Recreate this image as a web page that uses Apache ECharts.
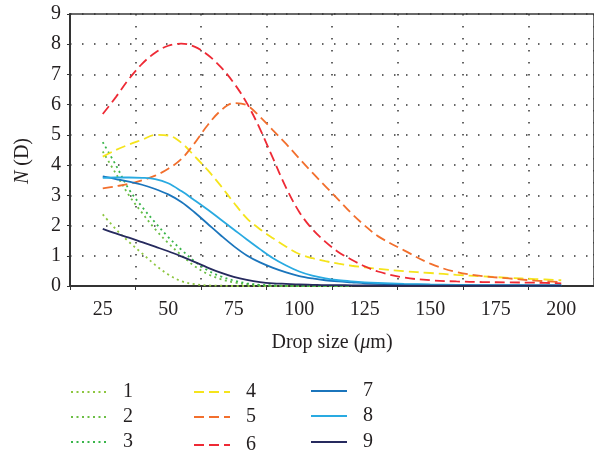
<!DOCTYPE html>
<html><head><meta charset="utf-8">
<script src="https://cdn.jsdelivr.net/npm/echarts@6/dist/echarts.min.js"></script>
<style>html,body{margin:0;padding:0;background:#fff}#c{width:594px;height:454px}</style>
</head><body><div id="c"></div><script>
// x tick labels (category labels)
const categories = ['25', '50', '75', '100', '125', '150', '175', '200'];
// drop sizes (µm) at which values were read
const dropSize = [25, 30, 35, 40, 45, 50, 55, 60, 65, 70, 75, 80, 85, 90, 95, 100, 105, 110, 115, 120, 125, 130, 140, 150, 160, 170, 180, 190, 200];
const s1 = [2.37, 1.88, 1.46, 1.08, 0.7, 0.38, 0.16, 0.06, 0.02, 0.01, 0.0, 0.0, 0.0, 0.0, 0.0, 0.0, 0.0, 0.0, 0.0, 0.0, null, null, null, null, null, null, null, null, null];
const s2 = [4.45, 3.72, 3.0, 2.42, 1.88, 1.42, 1.02, 0.66, 0.4, 0.23, 0.12, 0.06, 0.03, 0.01, 0.0, 0.0, 0.0, 0.0, 0.0, 0.0, null, null, null, null, null, null, null, null, null];
const s3 = [4.76, 4.0, 3.2, 2.62, 2.1, 1.62, 1.2, 0.82, 0.52, 0.32, 0.18, 0.09, 0.04, 0.02, 0.01, 0.0, 0.0, 0.0, 0.0, 0.0, null, null, null, null, null, null, null, null, null];
const s4 = [4.28, 4.5, 4.68, 4.84, 5.0, 4.98, 4.74, 4.3, 3.84, 3.32, 2.76, 2.24, 1.88, 1.58, 1.3, 1.06, 0.92, 0.82, 0.74, 0.67, 0.62, 0.57, 0.49, 0.43, 0.37, 0.32, 0.27, 0.23, 0.19];
const s5 = [3.23, 3.3, 3.38, 3.5, 3.65, 3.88, 4.2, 4.72, 5.32, 5.8, 6.05, 5.98, 5.6, 5.15, 4.7, 4.22, 3.75, 3.3, 2.85, 2.4, 2.0, 1.65, 1.18, 0.74, 0.46, 0.33, 0.25, 0.18, 0.13];
const s6 = [5.69, 6.25, 6.85, 7.35, 7.72, 7.95, 8.02, 7.92, 7.65, 7.25, 6.72, 6.05, 5.2, 4.22, 3.25, 2.45, 1.88, 1.46, 1.12, 0.87, 0.65, 0.48, 0.28, 0.19, 0.15, 0.13, 0.12, 0.11, 0.09];
const s7 = [3.63, 3.54, 3.45, 3.35, 3.21, 3.03, 2.78, 2.44, 2.06, 1.68, 1.32, 1.01, 0.78, 0.6, 0.45, 0.33, 0.25, 0.19, 0.15, 0.12, 0.09, 0.07, 0.05, 0.04, 0.03, 0.02, 0.02, 0.02, 0.02];
const s8 = [3.58, 3.59, 3.59, 3.58, 3.54, 3.4, 3.14, 2.84, 2.53, 2.2, 1.87, 1.54, 1.22, 0.92, 0.68, 0.48, 0.34, 0.25, 0.19, 0.15, 0.12, 0.1, 0.07, 0.05, 0.04, 0.03, 0.03, 0.02, 0.02];
const s9 = [1.89, 1.74, 1.6, 1.45, 1.3, 1.15, 0.98, 0.8, 0.61, 0.44, 0.3, 0.2, 0.13, 0.09, 0.07, 0.05, 0.04, 0.03, 0.03, 0.02, 0.02, 0.02, 0.01, 0.01, 0.01, 0.01, 0.01, 0.01, 0.01];
const seriesNames = ['1', '2', '3', '4', '5', '6', '7', '8', '9'];
const seriesValues = [s1, s2, s3, s4, s5, s6, s7, s8, s9];

const colors = ['#8dc63f', '#6cbe45', '#39b54a', '#f5e41c', '#f26f2d', '#ee2a35', '#1b75bc', '#29aae1', '#262a5e'];
const types = [[2, 3.5], [2, 3.5], [2, 3.5], [10, 5], [10, 5], [10, 5], 'solid', 'solid', 'solid'];
const FONT = '"Liberation Serif", "Times New Roman", serif';
const TXT = '#231f20';

const chart = echarts.init(document.getElementById('c'), null, {renderer: 'canvas'});
const series = seriesNames.map((name, k) => ({
  name: name,
  type: 'line',
  xAxisIndex: 1,
  smooth: 0.35,
  symbol: 'none',
  connectNulls: false,
  lineStyle: {color: colors[k], width: 1.8, type: types[k]},
  itemStyle: {color: colors[k]},
  data: dropSize.map((x, i) => [x, seriesValues[k][i]]),
  z: 3
}));

// legend item placement: [left of icon, icon centre y, text raise]
const legendPos = [[70, 392, 0], [70, 417, 0], [70, 442, 0],
                   [193, 392, 0], [193, 417, 0], [193, 445, 0],
                   [310, 391, 5], [310, 416, 5], [310, 442, 5]];
const legends = seriesNames.map((name, k) => ({
  data: [name], left: legendPos[k][0], top: legendPos[k][1] - 10 - legendPos[k][2],
  orient: 'horizontal', itemWidth: 36, itemHeight: 14, padding: 0,
  selectedMode: false,
  itemStyle: {opacity: 0, color: 'rgba(0,0,0,0)', borderWidth: 0},
  textStyle: {fontFamily: FONT, fontSize: 20, color: TXT, lineHeight: 20,
    padding: [0, 0, legendPos[k][2] * 2, 11]}
}));

chart.setOption({
  animation: false,
  backgroundColor: '#fff',
  grid: {left: 70, top: 14, width: 526, height: 272, show: true, borderColor: '#3a3a3a', borderWidth: 1.5, backgroundColor: 'transparent'},
  xAxis: [
    {
      type: 'category', data: categories, boundaryGap: true, position: 'bottom',
      axisLine: {lineStyle: {color: '#333', width: 2}},
      axisTick: {show: true, inside: false, length: 4, lineStyle: {color: '#333', width: 1}},
      axisLabel: {fontFamily: FONT, fontSize: 20, color: TXT, margin: 14},
      splitLine: {show: true, lineStyle: {color: '#333', width: 1.5, type: [1.5, 10.5]}},
      name: 'Drop size ({i|μ}m)', nameLocation: 'middle', nameGap: 47,
      nameTextStyle: {fontFamily: FONT, fontSize: 20, color: TXT, rich: {i: {fontFamily: FONT, fontSize: 20, fontStyle: 'italic', color: TXT}}}
    },
    {type: 'value', min: 12.5, max: 212.5, show: false}
  ],
  yAxis: {
    type: 'value', min: 0, max: 9, interval: 1,
    axisLine: {show: true, lineStyle: {color: '#333', width: 2}},
    axisTick: {show: true, inside: false, length: 3, lineStyle: {color: '#333', width: 1}},
    axisLabel: {fontFamily: FONT, fontSize: 20, color: TXT, margin: 9},
    splitLine: {show: true, lineStyle: {color: '#333', width: 1.5, type: [1.5, 10.5]}}
  },
  legend: legends,
  graphic: [{
    type: 'text', left: 13, top: 138, rotation: Math.PI / 2,
    style: {text: '{i|N} (D)', font: '20px ' + FONT, fill: TXT,
      rich: {i: {fontFamily: FONT, fontSize: 20, fontStyle: 'italic', fill: TXT}}}
  }],
  series: series
});
</script></body></html>
